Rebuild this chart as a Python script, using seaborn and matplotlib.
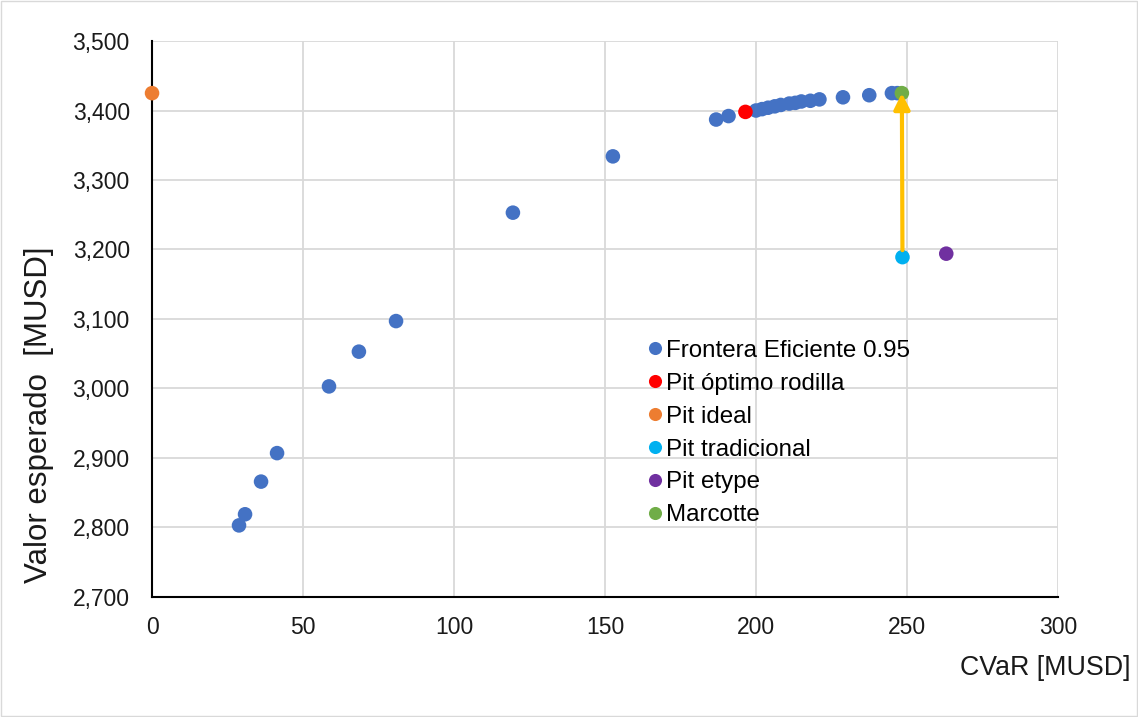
import matplotlib
matplotlib.use("Agg")
import matplotlib.pyplot as plt
import seaborn as sns
import pandas as pd
from matplotlib.ticker import FuncFormatter, MultipleLocator

# Data
frontera_cvar = [28.8, 30.8, 36.1, 41.4, 58.6, 68.5, 80.8, 119.5, 152.6, 186.8, 190.9,
                 200.0, 202.0, 204.0, 206.2, 208.2, 211.0, 213.0, 215.0, 218.0, 221.0,
                 228.8, 237.5, 245.0, 246.8]
frontera_valor = [2803, 2819, 2866, 2907, 3003, 3053, 3097, 3253, 3334, 3387, 3392,
                  3400, 3402, 3404, 3406, 3408, 3410, 3411, 3413, 3414, 3416,
                  3419, 3422, 3425, 3425]
rodilla = (196.5, 3398)
ideal = (0.0, 3425)
tradicional = (248.5, 3189)
etype = (263.0, 3194)
marcotte = (248.3, 3425)

series_names = ["Frontera Eficiente 0.95", "Pit óptimo rodilla", "Pit ideal",
                "Pit tradicional", "Pit etype", "Marcotte"]
colors = ["#4472C4", "#FF0000", "#ED7D31", "#00B0F0", "#7030A0", "#70AD47"]

rows = [(x, y, series_names[0]) for x, y in zip(frontera_cvar, frontera_valor)]
for name, pt in zip(series_names[1:], [rodilla, ideal, tradicional, etype, marcotte]):
    rows.append((pt[0], pt[1], name))
df = pd.DataFrame(rows, columns=["CVaR", "Valor", "Serie"])

sns.set_theme(style="white")
plt.rcParams["font.family"] = ["Liberation Sans", "DejaVu Sans"]

fig = plt.figure(figsize=(11.38, 7.17), dpi=100)
ax = fig.add_axes([0.1336, 0.1674, 0.9297 - 0.1336, 0.9428 - 0.1674])

sns.scatterplot(data=df, x="CVaR", y="Valor", hue="Serie", hue_order=series_names,
                palette=dict(zip(series_names, colors)), s=110, edgecolor="none",
                linewidth=0, ax=ax, zorder=3, clip_on=False)

ax.annotate("", xy=marcotte, xytext=tradicional,
            arrowprops=dict(arrowstyle="-|>,head_length=0.8,head_width=0.4",
                            color="#FFC000", lw=3, shrinkA=5, shrinkB=0), zorder=4)

ax.set_xlim(0, 300)
ax.set_ylim(2700, 3500)
ax.xaxis.set_major_locator(MultipleLocator(50))
ax.yaxis.set_major_locator(MultipleLocator(100))
ax.yaxis.set_major_formatter(FuncFormatter(lambda v, p: f"{int(v):,}"))
ax.grid(True, color="#D9D9D9", linewidth=1.3)
ax.set_axisbelow(True)
for side in ["top", "right"]:
    ax.spines[side].set_visible(False)
for side in ["left", "bottom"]:
    ax.spines[side].set_color("black")
    ax.spines[side].set_linewidth(1.5)
    ax.spines[side].set_zorder(2.5)
ax.tick_params(axis="both", labelsize=16.5, colors="#1A1A1A", length=0)
ax.tick_params(axis="y", pad=16)
ax.tick_params(axis="x", pad=14)

ax.set_xlabel("")
ax.set_ylabel("")
fig.text(0.993, 0.068, "CVaR [MUSD]", ha="right", va="center", fontsize=19.3, color="#1A1A1A")
fig.text(0.034, 0.421, "Valor esperado  [MUSD]", ha="center", va="center", rotation=90,
         fontsize=22.5, color="#1A1A1A")

leg = ax.legend(loc="upper left", bbox_to_anchor=(0.547, 0.4624), frameon=False,
                fontsize=17.4, handletextpad=0.17, labelspacing=0.45,
                markerscale=0.9, borderaxespad=0, borderpad=0, handlelength=0.6)
for t in leg.get_texts():
    t.set_color("black")

fig.patches.append(plt.Rectangle((0.001, 0.001), 0.998, 0.998, transform=fig.transFigure,
                                 fill=False, edgecolor="#D9D9D9", linewidth=1))

fig.savefig("out.png", dpi=100, facecolor="white")
